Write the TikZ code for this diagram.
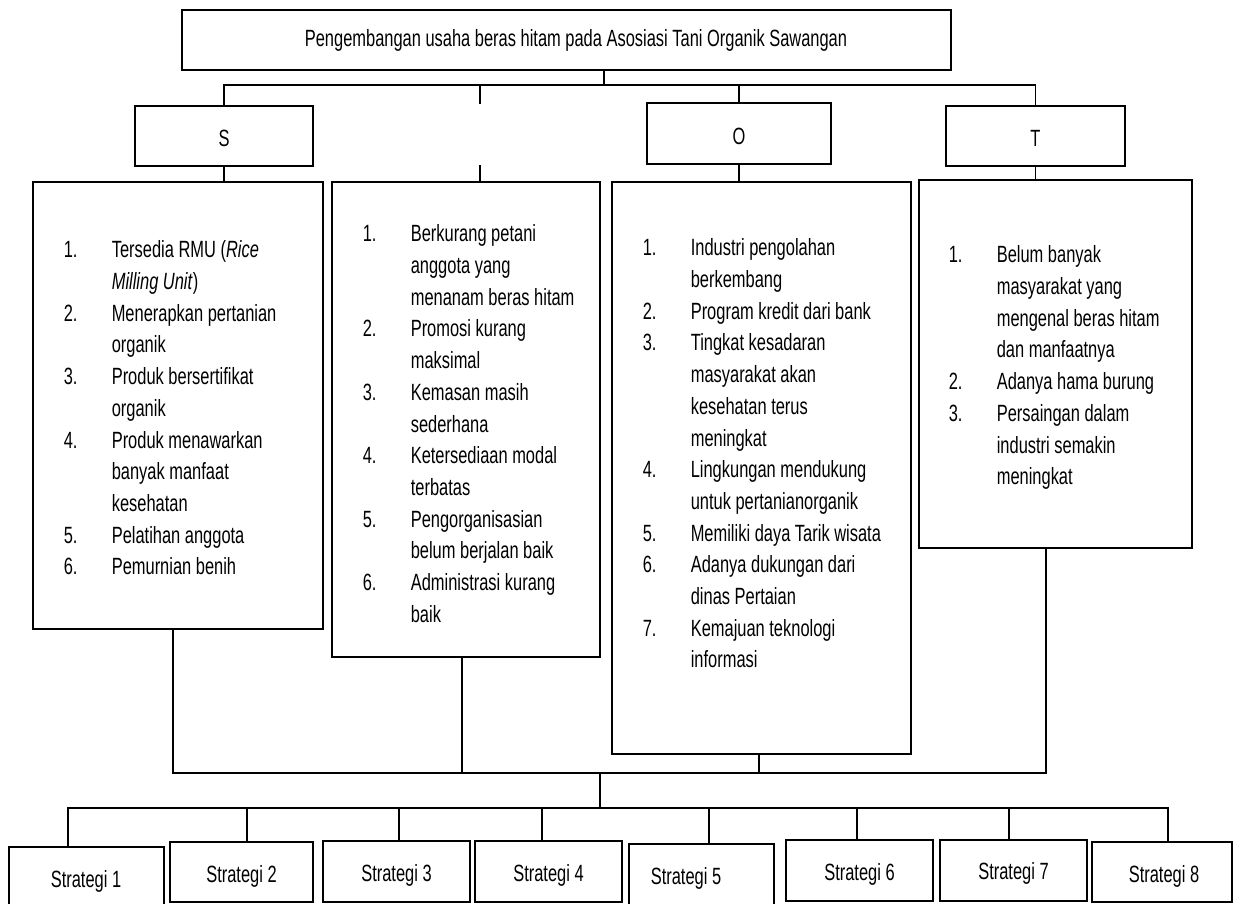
\documentclass[tikz,border=0pt]{standalone}
\usepackage{fontspec}
\setmainfont[FakeStretch=0.70]{Liberation Sans}
\newcommand\li[2]{\makebox[48pt][l]{#1}#2}
\newcommand\ct[1]{\makebox[48pt][l]{}#1}
\newcommand\fs{\rule{0pt}{20pt}}
\begin{document}
\begin{tikzpicture}[x=1pt,y=-1pt,line width=1.6pt,
  box/.style={draw,rectangle,inner sep=0pt},
  lst/.style={anchor=north west,align=left,inner sep=0pt,font=\fontsize{23.5}{31.7}\selectfont},
  lbl/.style={inner sep=0pt,anchor=base,font=\fontsize{23.5}{26}\selectfont}]
\useasboundingbox (0,0) rectangle (1236,903);
% top
\node[box,minimum width=769,minimum height=60] (top) at (566.5,40) {};
\node[lbl] (title) at (576,46) {Pengembangan usaha beras hitam pada Asosiasi Tani Organik Sawangan};
% S O T boxes
\node[box,minimum width=178,minimum height=60] (sbox) at (224,136) {};
\node[lbl] (slbl) at (224,146) {S};
\node[box,minimum width=184,minimum height=61] (obox) at (739,133.5) {};
\node[lbl] (olbl) at (739,144) {O};
\node[box,minimum width=179,minimum height=60] (tbox) at (1035.5,136) {};
\node[lbl] (tlbl) at (1035.5,146) {T};
% big boxes
\node[box,minimum width=290,minimum height=447] (sbig) at (178,405.5) {};
\node[box,minimum width=268,minimum height=475] (wbig) at (466,419.5) {};
\node[box,minimum width=299,minimum height=572] (obig) at (761.5,468) {};
\node[box,minimum width=273,minimum height=368] (tbig) at (1055.5,364) {};
% lists
\node[lst] (slist) at (63,237) {\fs\li{1.}{Tersedia RMU (\textit{Rice}}\\
\ct{\textit{Milling Unit})}\\
\li{2.}{Menerapkan pertanian}\\
\ct{organik}\\
\li{3.}{Produk bersertifikat}\\
\ct{organik}\\
\li{4.}{Produk menawarkan}\\
\ct{banyak manfaat}\\
\ct{kesehatan}\\
\li{5.}{Pelatihan anggota}\\
\li{6.}{Pemurnian benih}};
\node[lst] (wlist) at (362,221) {\fs\li{1.}{Berkurang petani}\\
\ct{anggota yang}\\
\ct{menanam beras hitam}\\
\li{2.}{Promosi kurang}\\
\ct{maksimal}\\
\li{3.}{Kemasan masih}\\
\ct{sederhana}\\
\li{4.}{Ketersediaan modal}\\
\ct{terbatas}\\
\li{5.}{Pengorganisasian}\\
\ct{belum berjalan baik}\\
\li{6.}{Administrasi kurang}\\
\ct{baik}};
\node[lst] (olist) at (642,235) {\fs\li{1.}{Industri pengolahan}\\
\ct{berkembang}\\
\li{2.}{Program kredit dari bank}\\
\li{3.}{Tingkat kesadaran}\\
\ct{masyarakat akan}\\
\ct{kesehatan terus}\\
\ct{meningkat}\\
\li{4.}{Lingkungan mendukung}\\
\ct{untuk pertanianorganik}\\
\li{5.}{Memiliki daya Tarik wisata}\\
\li{6.}{Adanya dukungan dari}\\
\ct{dinas Pertaian}\\
\li{7.}{Kemajuan teknologi}\\
\ct{informasi}};
\node[lst] (tlist) at (948,242) {\fs\li{1.}{Belum banyak}\\
\ct{masyarakat yang}\\
\ct{mengenal beras hitam}\\
\ct{dan manfaatnya}\\
\li{2.}{Adanya hama burung}\\
\li{3.}{Persaingan dalam}\\
\ct{industri semakin}\\
\ct{meningkat}};
% strategy boxes
\node[box,minimum width=155,minimum height=68] (st1) at (86.5,881) {};
\node[box,minimum width=143,minimum height=60] (st2) at (241.5,872) {};
\node[box,minimum width=147,minimum height=61] (st3) at (396.5,871.5) {};
\node[box,minimum width=147,minimum height=61] (st4) at (548.5,871.5) {};
\node[box,minimum width=145,minimum height=71] (st5) at (701.5,879.5) {};
\node[box,minimum width=147,minimum height=61] (st6) at (859.5,870.5) {};
\node[box,minimum width=147,minimum height=61] (st7) at (1013.5,870.5) {};
\node[box,minimum width=140,minimum height=60] (st8) at (1162,872) {};
\node[lbl] (l1) at (86,887) {Strategi 1};
\node[lbl] (l2) at (241.5,882) {Strategi 2};
\node[lbl] (l3) at (396.5,881) {Strategi 3};
\node[lbl] (l4) at (548.5,881) {Strategi 4};
\node[lbl] (l5) at (686,884) {Strategi 5};
\node[lbl] (l6) at (859.5,880) {Strategi 6};
\node[lbl] (l7) at (1013.5,879) {Strategi 7};
\node[lbl] (l8) at (1164,882) {Strategi 8};
% coordinates
\coordinate (j0) at (604,85);
\coordinate (wu) at (480,104);
\coordinate (wl) at (480,165);
\coordinate (sx) at (173,773);
\coordinate (wx) at (462,773);
\coordinate (ox) at (759,773);
\coordinate (tx) at (1046,773);
\coordinate (jb) at (600,773);
\coordinate (js) at (600,808);
\coordinate (a1) at (68,808);
\coordinate (a2) at (247,808);
\coordinate (a3) at (399,808);
\coordinate (a4) at (542,808);
\coordinate (a5) at (709,808);
\coordinate (a6) at (857,808);
\coordinate (a7) at (1009,808);
\coordinate (a8) at (1168,808);
% upper connectors
\draw (top.south -| j0) -- (j0);
\draw (sbox.north) -- (sbox.north |- j0) -- (tbox.north |- j0) -- (tbox.north);
\draw (obox.north) -- (obox.north |- j0);
\draw (wu) -- (wu |- j0);
\draw (wl) -- (wbig.north -| wl);
\draw (sbox.south) -- (sbig.north -| sbox.south);
\draw (obox.south) -- (obig.north -| obox.south);
\draw (tbox.south) -- (tbig.north -| tbox.south);
% lower connectors
\draw (sbig.south -| sx) -- (sx) -- (tx) -- (tbig.south -| tx);
\draw (wbig.south -| wx) -- (wx);
\draw (obig.south -| ox) -- (ox);
\draw (jb) -- (js);
\draw (st1.north -| a1) -- (a1) -- (a8) -- (st8.north -| a8);
\draw (a2) -- (st2.north -| a2);
\draw (a3) -- (st3.north -| a3);
\draw (a4) -- (st4.north -| a4);
\draw (a5) -- (st5.north -| a5);
\draw (a6) -- (st6.north -| a6);
\draw (a7) -- (st7.north -| a7);
\end{tikzpicture}
\end{document}
